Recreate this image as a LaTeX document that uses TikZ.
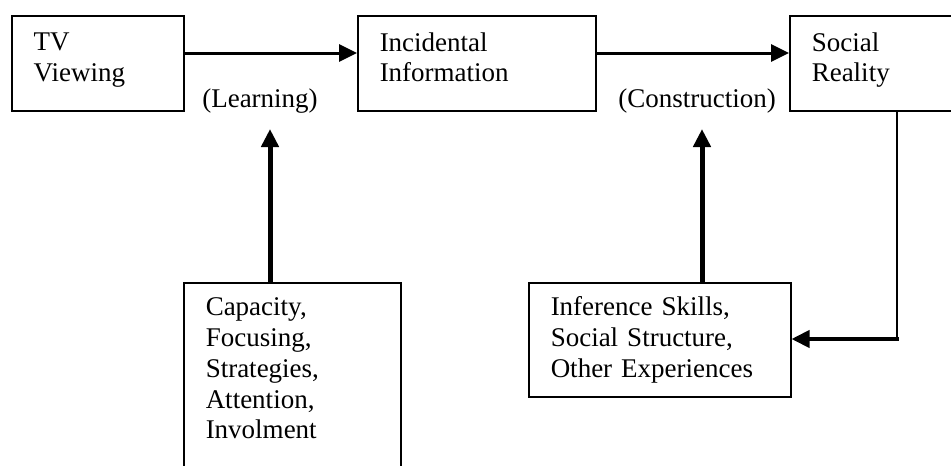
\documentclass[tikz,border=0pt]{standalone}
\usepackage{fontspec}
\setmainfont{Liberation Serif}
\usetikzlibrary{arrows.meta}
\begin{document}
\begin{tikzpicture}[x=1pt, y=-1pt, font=\fontsize{27}{30.8}\selectfont, >={Triangle[length=18pt,width=17pt]},
	box/.style={draw, line width=1.5pt, anchor=north west, inner xsep=22pt, inner ysep=0pt, align=left},
	topbox/.style={box, minimum height=95pt, text depth=43pt}]
	\useasboundingbox (0,0) rectangle (951,466);
	\clip (0,0) rectangle (951,466);
	\node[topbox, text width=128pt] (tv) at (11,15) {TV\\Viewing};
	\node[topbox, text width=194pt] (inc) at (357,15) {Incidental\\Information};
	\node[topbox, text width=140pt] (soc) at (789,15) {Social\\Reality};
	\node[box, text width=173pt, inner ysep=15pt, text depth=200pt] (cap) at (183,282) {Capacity,\\Focusing,\\Strategies,\\Attention,\\Involment};
	\node[box, text width=218pt, minimum height=114pt] (inf) at (528,282) {Inference Skills,\\Social Structure,\\Other Experiences};
	\node (lrn) at (260,101) {(Learning)};
	\node (cns) at (697,101) {(Construction)};
	\coordinate (row) at (0,53);
	\coordinate (lrntip) at (270,129);
	\coordinate (cnstip) at (702,129);
	\coordinate (fb) at (897,339);
	\draw[->, line width=3pt] (tv.east |- row) -- (inc.west |- row);
	\draw[->, line width=3pt] (inc.east |- row) -- (soc.west |- row);
	\draw[->, line width=5pt] (cap.north -| lrntip) -- (lrntip);
	\draw[->, line width=5pt] (inf.north -| cnstip) -- (cnstip);
	\draw[line width=2pt] (soc.south -| fb) -- (fb);
	\draw[->, line width=4pt, line cap=rect] (fb) -- (inf.east |- fb);
\end{tikzpicture}
\end{document}
